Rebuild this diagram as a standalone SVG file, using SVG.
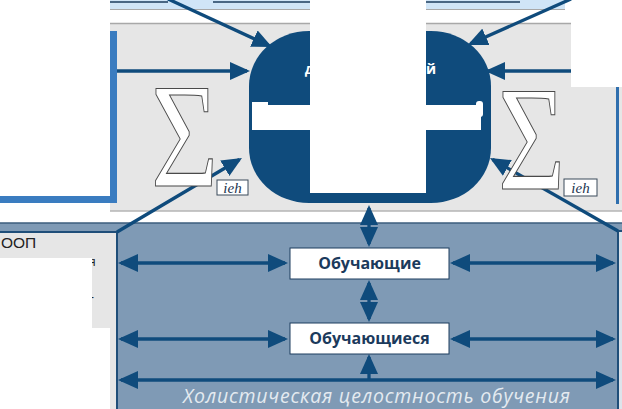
<svg xmlns="http://www.w3.org/2000/svg" width="622" height="409" viewBox="0 0 622 409">
<defs>
<style>
.ln{stroke:#0f4b7c;stroke-width:3.3;fill:none}
.bx{fill:#ffffff;stroke:#1d3d5e;stroke-width:1}
.lbl{font-family:"Open Sans","Liberation Sans",sans-serif;font-weight:bold;font-size:16px;fill:#1b3a5c;text-anchor:middle}
.sig{font-family:"Liberation Serif",serif;font-size:146px;fill:#ffffff;stroke:#4a4a4a;stroke-width:1.1}
.sub{fill:#ffffff;stroke:#3a4a5a;stroke-width:1}
.subt{font-family:"Liberation Serif",serif;font-style:italic;font-size:15px;fill:#1b3550;text-anchor:middle}
.occ{fill:#ffffff}
</style>
<marker id="ah" markerUnits="userSpaceOnUse" markerWidth="20" markerHeight="18" viewBox="0 0 20 18" refX="17" refY="9" orient="auto-start-reverse">
<path d="M0,0 L20,9 L0,18 Z" fill="#0f4b7c"/>
</marker>
</defs>
<rect width="622" height="409" fill="#ffffff"/>
<g id="top-band">
<rect x="110" y="0" width="455" height="9.5" fill="#d0e5f7"/>
<line x1="110" y1="9.5" x2="565" y2="9.5" stroke="#a8a8a8" stroke-width="1.2"/>
<line x1="110" y1="2" x2="168" y2="2" stroke="#1d3d5e" stroke-width="1.5"/>
<line x1="213" y1="2" x2="310" y2="2" stroke="#1d3d5e" stroke-width="1.5"/>
<line x1="423" y1="2" x2="520" y2="2" stroke="#1d3d5e" stroke-width="1.5"/>
</g>
<g id="upper-panel">
<rect x="110" y="23" width="514" height="188" fill="#e6e6e6"/>
<line x1="110" y1="23.5" x2="622" y2="23.5" stroke="#a8a8a8" stroke-width="1.5"/>
<line x1="110" y1="211" x2="622" y2="211" stroke="#b5b5b5" stroke-width="1.5"/>
<rect class="occ" x="571" y="0" width="51" height="87"/>
<line x1="617.5" y1="87" x2="617.5" y2="204" stroke="#2f6fae" stroke-width="3"/>
</g>
<g id="left-box">
<rect class="occ" x="0" y="0" width="110" height="196"/>
<rect x="110" y="31" width="7" height="172" fill="#3a7cc0"/>
<rect x="0" y="196" width="117" height="7" fill="#3a7cc0"/>
</g>
<g id="lower-panel">
<rect x="-2" y="223" width="626" height="190" fill="#7f9ab5" stroke="#3d5d7e" stroke-width="1.5"/>
<rect x="-2" y="232" width="119" height="181" fill="#e6e6e6" stroke="#1f4e79" stroke-width="2"/>
<rect x="618" y="231" width="12" height="182" fill="#dde4eb" stroke="#1f4e79" stroke-width="2"/>
<text x="1" y="248" font-family="Liberation Sans,Arial,sans-serif" font-size="15.5" fill="#222222">ООП</text>
<text x="89" y="266" font-family="Liberation Sans,Arial,sans-serif" font-size="12" fill="#222222">я</text>
<text x="90" y="301" font-family="Liberation Sans,Arial,sans-serif" font-size="12" fill="#222222">-</text>
<rect class="occ" x="0" y="258" width="92" height="70"/>
<rect class="occ" x="0" y="328" width="110" height="81"/>
</g>
<g id="connectors">
<line class="ln" x1="168" y1="-1" x2="269.3" y2="45.7" marker-end="url(#ah)"/>
<line class="ln" x1="117" y1="71" x2="247" y2="71" marker-end="url(#ah)"/>
<line class="ln" x1="117" y1="232" x2="239.4" y2="159.5" marker-end="url(#ah)"/>
<line class="ln" x1="571" y1="-1" x2="470.4" y2="43.8" marker-end="url(#ah)"/>
<line class="ln" x1="571" y1="71" x2="488" y2="71" marker-end="url(#ah)"/>
<line class="ln" x1="618" y1="231" x2="492.6" y2="159.5" marker-end="url(#ah)"/>
<line class="ln" x1="369" y1="208" x2="369" y2="244" marker-start="url(#ah)" marker-end="url(#ah)"/>
<line class="ln" x1="369" y1="283" x2="369" y2="319" marker-start="url(#ah)" marker-end="url(#ah)"/>
<line class="ln" x1="369" y1="380" x2="369" y2="357" marker-end="url(#ah)"/>
<line class="ln" x1="121" y1="263" x2="285" y2="263" marker-start="url(#ah)" marker-end="url(#ah)"/>
<line class="ln" x1="453" y1="263" x2="613" y2="263" marker-start="url(#ah)" marker-end="url(#ah)"/>
<line class="ln" x1="121" y1="339" x2="285" y2="339" marker-start="url(#ah)" marker-end="url(#ah)"/>
<line class="ln" x1="453" y1="339" x2="613" y2="339" marker-start="url(#ah)" marker-end="url(#ah)"/>
<line class="ln" x1="121" y1="380" x2="613" y2="380" marker-start="url(#ah)" marker-end="url(#ah)"/>
</g>
<g id="center">
<rect x="249" y="31" width="242" height="172" rx="60" ry="55" fill="#0f4b7c"/>
<text x="314" y="74" font-family="Open Sans,sans-serif" font-weight="bold" font-size="14" fill="#ffffff" text-anchor="end">д</text>
<text x="426" y="74" font-family="Open Sans,sans-serif" font-weight="bold" font-size="14" fill="#ffffff">й</text>
<rect class="occ" x="310" y="0" width="116" height="193"/>
<rect class="occ" x="252" y="105" width="229" height="25"/>
<rect class="occ" x="252" y="102" width="16" height="6"/>
<rect class="occ" x="476" y="101" width="7" height="16" rx="3"/>
</g>
<g id="sigma-left">
<text class="sig" transform="translate(151,186) scale(0.79,1.02)">Σ</text>
<rect class="sub" x="217" y="180" width="31" height="15"/>
<text class="subt" x="232.5" y="193">ieh</text>
</g>
<g id="sigma-right">
<text class="sig" transform="translate(498,189) scale(0.79,1.02)">Σ</text>
<rect class="sub" x="564" y="179" width="33" height="17"/>
<text class="subt" x="580.5" y="193">ieh</text>
</g>
<g id="node-teachers">
<rect class="bx" x="290" y="248" width="159" height="31"/>
<text class="lbl" x="369.5" y="269">Обучающие</text>
</g>
<g id="node-learners">
<rect class="bx" x="290" y="323" width="159" height="31"/>
<text class="lbl" x="369.5" y="344">Обучающиеся</text>
</g>
<text x="183" y="403" font-family="Open Sans,sans-serif" font-style="italic" font-size="19.5" fill="#e4eaf0" textLength="387" lengthAdjust="spacing">Холистическая целостность обучения</text>
</svg>
